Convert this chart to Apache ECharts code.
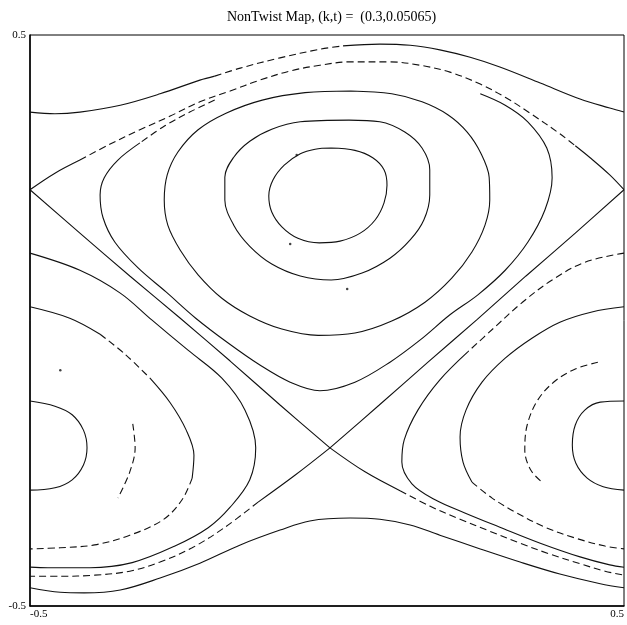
<!DOCTYPE html>
<html>
<head>
<meta charset="utf-8">
<script src="https://cdn.jsdelivr.net/npm/echarts@6/dist/echarts.min.js"></script>
<style>html,body{margin:0;padding:0;background:#fff}#c{width:627px;height:625px}</style>
</head>
<body>
<div id="c"></div>
<script>
// ---- data (phase-space coordinates x, y) ----
const titleText = 'NonTwist Map, (k,t) =  (0.3,0.05065)';
const xTicks = [-0.5, 0.5];
const yTicks = [-0.5, 0.5];

// top outer orbit
const A_left  = [[-0.5,0.365],[-0.458,0.362],[-0.416,0.365],[-0.348,0.377],[-0.281,0.397],[-0.214,0.421],[-0.189,0.428]];
const A_mid   = [[-0.189,0.428],[-0.146,0.442],[-0.079,0.460],[-0.012,0.475],[0.027,0.481]];
const A_right = [[0.027,0.481],[0.089,0.484],[0.140,0.482],[0.190,0.474],[0.241,0.461],[0.291,0.444],[0.359,0.416],[0.426,0.388],[0.476,0.372],[0.5,0.365]];
// upper separatrix
const B_left  = [[-0.5,0.229],[-0.458,0.258],[-0.416,0.281]];
const B_mid   = [[-0.416,0.281],[-0.365,0.309],[-0.315,0.334],[-0.264,0.358],[-0.214,0.383],[-0.163,0.402],[-0.113,0.421],[-0.062,0.437],[-0.012,0.447],[0.039,0.453],[0.106,0.453],[0.157,0.447],[0.207,0.435],[0.258,0.414],[0.300,0.391],[0.342,0.363],[0.392,0.327],[0.418,0.306]];
const B_right = [[0.418,0.306],[0.443,0.285],[0.476,0.255],[0.5,0.229]];
// upper island orbits
const U1 = [[0.007,0.302],[0.047,0.298],[0.077,0.285],[0.096,0.264],[0.101,0.237],[0.096,0.206],[0.081,0.176],[0.056,0.153],[0.022,0.139],[-0.013,0.136],[-0.049,0.144],[-0.076,0.164],[-0.093,0.190],[-0.098,0.218],[-0.091,0.246],[-0.072,0.272],[-0.045,0.292],[-0.020,0.300],[0.007,0.302]];
const U2 = [[0.037,0.351],[0.089,0.348],[0.131,0.330],[0.160,0.302],[0.173,0.264],[0.173,0.220],[0.163,0.176],[0.140,0.141],[0.106,0.109],[0.059,0.083],[0.007,0.071],[-0.045,0.078],[-0.093,0.099],[-0.130,0.130],[-0.157,0.167],[-0.172,0.211],[-0.172,0.251],[-0.157,0.286],[-0.130,0.314],[-0.093,0.335],[-0.045,0.348],[0.037,0.351]];
const U3 = [[0.040,0.402],[0.109,0.397],[0.160,0.383],[0.204,0.360],[0.236,0.330],[0.259,0.293],[0.273,0.251],[0.274,0.211],[0.266,0.167],[0.244,0.120],[0.210,0.074],[0.165,0.032],[0.109,-0.001],[0.047,-0.022],[-0.015,-0.026],[-0.076,-0.015],[-0.130,0.008],[-0.177,0.039],[-0.217,0.080],[-0.247,0.123],[-0.268,0.167],[-0.274,0.211],[-0.269,0.255],[-0.251,0.295],[-0.217,0.334],[-0.170,0.363],[-0.109,0.386],[-0.037,0.399],[0.040,0.402]];
const U4_dash = [[-0.189,0.386],[-0.231,0.365],[-0.273,0.341],[-0.315,0.311]];
const U4 = [[-0.315,0.311],[-0.352,0.281],[-0.375,0.250],[-0.382,0.220],[-0.377,0.180],[-0.357,0.137],[-0.318,0.092],[-0.271,0.050],[-0.221,0.004],[-0.167,-0.039],[-0.113,-0.078],[-0.062,-0.108],[-0.012,-0.123],[0.047,-0.108],[0.106,-0.073],[0.157,-0.034],[0.207,0.010],[0.254,0.045],[0.300,0.088],[0.338,0.137],[0.367,0.194],[0.379,0.250],[0.370,0.302],[0.338,0.348],[0.300,0.377],[0.258,0.397]];
// separatrix crossing
const S1 = [[-0.5,0.229],[-0.416,0.153],[-0.332,0.078],[-0.247,0.004],[-0.163,-0.071],[-0.079,-0.148],[0.005,-0.223]];
const S2 = [[0.5,0.229],[0.418,0.153],[0.335,0.078],[0.253,0.002],[0.170,-0.073],[0.088,-0.148],[0.005,-0.223]];
const S3a = [[0.005,-0.223],[-0.054,-0.271],[-0.116,-0.318]];
const S3b = [[-0.116,-0.318],[-0.173,-0.363],[-0.227,-0.398],[-0.281,-0.423],[-0.332,-0.439],[-0.391,-0.446],[-0.449,-0.448],[-0.5,-0.448]];
const S4a = [[0.005,-0.223],[0.064,-0.265],[0.123,-0.298]];
const S4b = [[0.123,-0.298],[0.173,-0.325],[0.224,-0.348],[0.274,-0.369],[0.325,-0.390],[0.375,-0.409],[0.426,-0.426],[0.468,-0.439],[0.5,-0.446]];
// bottom outer orbit
const E = [[-0.5,-0.468],[-0.449,-0.476],[-0.409,-0.477],[-0.348,-0.472],[-0.281,-0.451],[-0.214,-0.425],[-0.146,-0.393],[-0.079,-0.367],[-0.029,-0.351],[0.039,-0.346],[0.089,-0.348],[0.140,-0.358],[0.190,-0.376],[0.258,-0.400],[0.325,-0.423],[0.392,-0.444],[0.460,-0.461],[0.5,-0.468]];
// lower island orbits (wrapping across x = +-0.5)
const L1L = [[-0.5,-0.141],[-0.458,-0.150],[-0.429,-0.165],[-0.410,-0.192],[-0.404,-0.223],[-0.410,-0.253],[-0.429,-0.279],[-0.458,-0.293],[-0.5,-0.297]];
const L1R = [[0.5,-0.141],[0.460,-0.143],[0.434,-0.157],[0.418,-0.183],[0.413,-0.218],[0.419,-0.250],[0.438,-0.276],[0.465,-0.291],[0.5,-0.297]];
const L2L = [[-0.327,-0.181],[-0.323,-0.223],[-0.332,-0.265],[-0.352,-0.311]];
const L2R = [[0.456,-0.073],[0.418,-0.085],[0.384,-0.106],[0.355,-0.139],[0.337,-0.183],[0.333,-0.227],[0.343,-0.262],[0.362,-0.283]];
const L3La = [[-0.5,0.024],[-0.433,0.004],[-0.382,-0.024]];
const L3Lb = [[-0.382,-0.024],[-0.340,-0.059],[-0.298,-0.101]];
const L3Lc = [[-0.298,-0.101],[-0.264,-0.144],[-0.237,-0.192],[-0.224,-0.236],[-0.227,-0.276]];
const L3Ld = [[-0.227,-0.276],[-0.244,-0.314],[-0.276,-0.349],[-0.332,-0.376],[-0.391,-0.393],[-0.449,-0.398],[-0.5,-0.400]];
const L3Ra = [[0.5,0.024],[0.446,0.015],[0.392,-0.003],[0.345,-0.031],[0.300,-0.066],[0.261,-0.108],[0.234,-0.157],[0.224,-0.204],[0.229,-0.248],[0.244,-0.283]];
const L3Rb = [[0.244,-0.283],[0.278,-0.311],[0.316,-0.335],[0.367,-0.362],[0.418,-0.381],[0.468,-0.395],[0.5,-0.400]];
const L4L = [[-0.5,0.118],[-0.416,0.088],[-0.348,0.048],[-0.295,0.001],[-0.234,-0.052],[-0.177,-0.101],[-0.138,-0.157],[-0.120,-0.223],[-0.130,-0.279],[-0.163,-0.327],[-0.200,-0.363],[-0.256,-0.395],[-0.328,-0.424],[-0.399,-0.433],[-0.470,-0.433],[-0.5,-0.432]];
const L4Ra = [[0.5,0.118],[0.434,0.102],[0.379,0.071],[0.328,0.031],[0.281,-0.013],[0.237,-0.055]];
const L4Rb = [[0.237,-0.055],[0.190,-0.104],[0.153,-0.157],[0.130,-0.209],[0.126,-0.248],[0.143,-0.286],[0.182,-0.314],[0.232,-0.337],[0.291,-0.362],[0.359,-0.390],[0.426,-0.414],[0.476,-0.428],[0.5,-0.432]];
// isolated points
const dots = [[-0.051,0.290],[-0.062,0.134],[0.034,0.055],[-0.449,-0.087]];

const solidCurves = [A_left, A_right, B_left, B_right, U1, U2, U3, U4, S1, S2, S3a, S4a, E, L1L, L1R, L3La, L3Lc, L3Ra, L4L, L4Rb];
const dashedCurves = [A_mid, B_mid, U4_dash, S3b, S4b, L2L, L2R, L3Lb, L3Ld, L3Rb, L4Ra];

const chart = echarts.init(document.getElementById('c'), null, {renderer: 'canvas'});
const series = [];
solidCurves.forEach(d => series.push({type:'line', data:d, symbol:'none', smooth:0.35, silent:true,
  lineStyle:{color:'#111', width:1.1, type:'solid'}}));
dashedCurves.forEach(d => series.push({type:'line', data:d, symbol:'none', smooth:0.35, silent:true,
  lineStyle:{color:'#111', width:1.1, type:[7,4]}}));
series.push({type:'scatter', data:dots, symbolSize:2.5, itemStyle:{color:'#111'}, silent:true});

const labelFont = {fontFamily:'Liberation Serif', fontSize:11, color:'#000'};
chart.setOption({
  animation:false,
  backgroundColor:'#fff',
  title:{text:titleText, left:222, top:5,
    textStyle:{fontFamily:'Liberation Serif', fontSize:14, fontWeight:'normal', color:'#000'}},
  grid:{left:30, right:3, top:35, bottom:19, show:true, borderColor:'#000', borderWidth:1},
  xAxis:{type:'value', min:-0.5, max:0.5, interval:0.5,
    axisLine:{show:true, onZero:false, lineStyle:{color:'#000', width:1.5}}, axisTick:{show:false}, splitLine:{show:false},
    axisLabel:Object.assign({margin:3, showMinLabel:true, showMaxLabel:true, alignMinLabel:'left', alignMaxLabel:'right',
      formatter:v => (xTicks.indexOf(v) >= 0 ? v.toFixed(1) : '')}, labelFont)},
  yAxis:{type:'value', min:-0.5, max:0.5, interval:0.5,
    axisLine:{show:true, onZero:false, lineStyle:{color:'#000', width:1.5}}, axisTick:{show:false}, splitLine:{show:false},
    axisLabel:Object.assign({margin:4, showMinLabel:true, showMaxLabel:true,
      formatter:v => (yTicks.indexOf(v) >= 0 ? v.toFixed(1) : '')}, labelFont)},
  series:series
});
</script>
</body>
</html>
